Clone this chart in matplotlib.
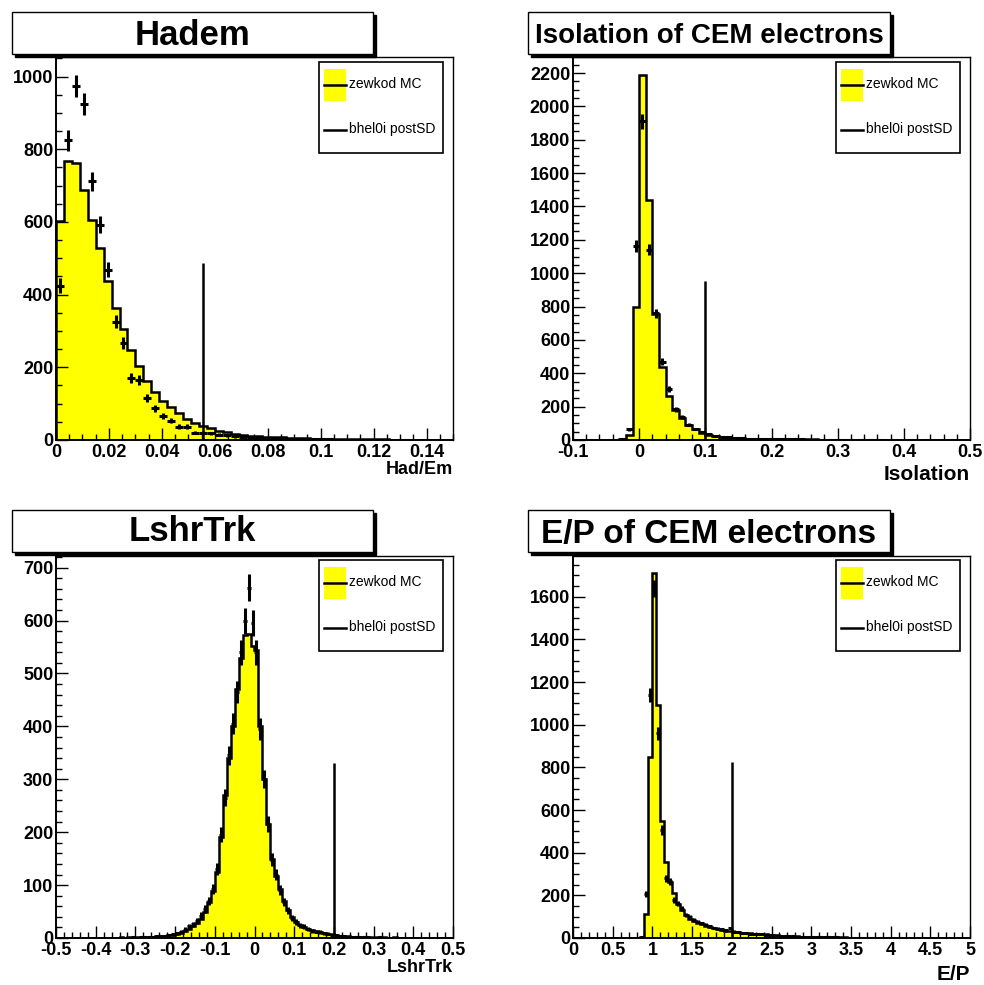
import numpy as np
import matplotlib
matplotlib.use('Agg')
import matplotlib.pyplot as plt
from matplotlib.patches import Rectangle
from matplotlib.lines import Line2D
from matplotlib.ticker import MultipleLocator, FuncFormatter

plt.rcParams['font.family'] = ['Liberation Sans', 'DejaVu Sans']

W, H = 984, 985

# ---- Hadem: 50 bins from 0 to 0.15
hadem_range = (0.0, 0.15)
hadem_mc = [602, 769, 763, 688, 605, 528, 438, 363, 306, 248,
            204, 163, 133, 108, 90, 74, 58, 48, 39, 32,
            26, 21, 17, 15, 12, 10, 9, 8, 7, 6,
            5, 5, 4, 4, 3, 3, 3, 2, 2, 2,
            2, 2, 1, 1, 1, 1, 1, 1, 1, 1]
hadem_data = [425, 825, 974, 924, 712, 593, 469, 326, 267, 170,
              165, 115, 87, 66, 53, 37, 37, 20, 20, 18,
              15, 13, 10, 9, 8, 6, 5, 5, 4, 3,
              3, 2, 2, 2, 2, 1, 1, 1, 1, 1,
              1, 1, 0, 1, 0, 0, 1, 0, 0, 0]
hadem_cut = 0.0555
hadem_cut_h = 487

# ---- Isolation: 60 bins from -0.1 to 0.5
iso_range = (-0.1, 0.5)
iso_mc = [0, 0, 0, 0, 0, 0, 1, 5, 30, 796,
          2186, 1436, 756, 436, 264, 180, 130, 90, 64, 44,
          32, 24, 18, 14, 11, 9, 8, 7, 6, 5,
          5, 4, 4, 3, 3, 3, 3, 2, 2, 2,
          2, 2, 2, 1, 1, 1, 1, 1, 1, 1,
          1, 1, 1, 1, 1, 1, 1, 1, 1, 1]
iso_data = [0, 0, 0, 0, 0, 0, 0, 3, 65, 1164,
            1910, 1140, 760, 470, 304, 184, 136, 92, 66, 46,
            34, 26, 20, 15, 12, 10, 8, 7, 6, 5,
            5, 4, 3, 3, 3, 2, 2, 2, 2, 1,
            1, 1, 1, 1, 1, 1, 1, 0, 1, 0,
            1, 0, 0, 1, 0, 0, 0, 0, 0, 0]
iso_cut = 0.1
iso_cut_h = 954

# ---- LshrTrk: 100 bins from -0.5 to 0.5
lshr_range = (-0.5, 0.5)
lshr_mc = [0, 0, 0, 0, 0, 0, 0, 0, 0, 0,
           0, 0, 0, 0, 0, 0, 1, 0, 1, 1,
           1, 1, 1, 2, 2, 3, 3, 4, 5, 6,
           8, 10, 13, 17, 22, 29, 36, 50, 68, 88,
           125, 190, 270, 340, 400, 470, 530, 572, 575, 552,
           545, 400, 300, 215, 150, 118, 92, 70, 52, 40,
           31, 25, 20, 17, 15, 13, 11, 10, 8, 7,
           5, 4, 3, 3, 2, 2, 1, 1, 1, 1,
           1, 0, 1, 0, 0, 1, 0, 0, 0, 0,
           0, 0, 0, 0, 0, 0, 0, 0, 0, 0]
lshr_data = [0, 0, 0, 0, 0, 0, 0, 0, 0, 0,
             0, 0, 0, 0, 0, 0, 0, 0, 0, 1,
             0, 1, 1, 2, 2, 3, 4, 4, 5, 7,
             9, 12, 16, 22, 26, 33, 42, 55, 70, 92,
             130, 195, 265, 345, 405, 465, 540, 600, 662, 595,
             540, 395, 300, 215, 148, 120, 90, 68, 52, 38,
             30, 24, 21, 17, 14, 12, 11, 9, 8, 6,
             5, 4, 3, 2, 2, 1, 1, 1, 1, 0,
             0, 1, 0, 0, 0, 0, 0, 0, 0, 0,
             0, 0, 0, 0, 0, 0, 0, 0, 0, 0]
lshr_cut = 0.2
lshr_cut_h = 330

# ---- E/P: 100 bins from 0 to 5
ep_range = (0.0, 5.0)
ep_mc = [0, 0, 0, 0, 0, 0, 0, 0, 0, 0,
         0, 0, 0, 0, 0, 0, 0, 5, 114, 849,
         1710, 1092, 549, 357, 263, 211, 161, 130, 107, 91,
         79, 71, 65, 58, 52, 46, 43, 38, 35, 32,
         29, 27, 25, 23, 22, 21, 20, 19, 17, 15,
         13, 12, 11, 10, 9, 8, 8, 7, 7, 6,
         6, 5, 5, 4, 4, 4, 3, 3, 3, 2,
         2, 2, 2, 1, 1, 1, 1, 1, 1, 1,
         1, 1, 1, 0, 1, 0, 1, 0, 0, 1,
         0, 0, 0, 0, 0, 0, 0, 0, 0, 0]
ep_data = [0, 0, 0, 0, 0, 0, 0, 0, 0, 0,
           0, 0, 0, 0, 0, 0, 0, 3, 208, 1139,
           1640, 959, 505, 279, 265, 177, 161, 138, 107, 99,
           85, 77, 68, 63, 55, 47, 43, 40, 36, 47,
           30, 27, 24, 22, 21, 20, 19, 18, 16, 14,
           12, 11, 10, 9, 8, 8, 7, 6, 6, 5,
           5, 5, 4, 4, 3, 3, 3, 2, 2, 2,
           2, 1, 1, 1, 1, 1, 0, 1, 0, 1,
           0, 0, 1, 0, 0, 0, 0, 0, 0, 0,
           0, 0, 0, 0, 0, 0, 0, 0, 0, 0]
ep_cut = 2.0
ep_cut_h = 826

legend_labels = ['zewkod MC', 'bhel0i postSD']

fig = plt.figure(figsize=(W / 100, H / 100), dpi=100)


def fx(x):
    return x / W


def fy(y):
    return 1 - y / H


def fmt(v, pos):
    return f'{round(v, 6) + 0.0:g}'


def title_box(x0, y0, x1, y1, text, size, base):
    # ROOT style title pave with a shadow
    fig.patches.append(Rectangle((fx(x0 + 3), fy(y1 + 3)), (x1 - x0) / W, (y1 - y0) / H,
                                 transform=fig.transFigure, facecolor='black', edgecolor='black'))
    fig.patches.append(Rectangle((fx(x0), fy(y1)), (x1 - x0) / W, (y1 - y0) / H,
                                 transform=fig.transFigure, facecolor='white', edgecolor='black', lw=1))
    fig.text(fx((x0 + x1) / 2), fy(base), text, ha='center', va='baseline',
             fontsize=size, fontweight='bold')


def legend_box(x0, y0):
    x1, y1 = x0 + 124, y0 + 91
    fig.patches.append(Rectangle((fx(x0), fy(y1)), 124 / W, 91 / H, transform=fig.transFigure,
                                 facecolor='white', edgecolor='black', lw=1.2, zorder=5))
    fig.patches.append(Rectangle((fx(x0 + 5), fy(y0 + 39)), 22 / W, 32 / H, transform=fig.transFigure,
                                 facecolor='#ffff00', edgecolor='none', zorder=6))
    fig.lines.append(Line2D([fx(x0 + 5), fx(x0 + 27)], [fy(y0 + 23), fy(y0 + 23)],
                            transform=fig.transFigure, color='black', lw=1.8, zorder=7))
    fig.lines.append(Line2D([fx(x0 + 5), fx(x0 + 27)], [fy(y0 + 68), fy(y0 + 68)],
                            transform=fig.transFigure, color='black', lw=1.8, zorder=7))
    fig.text(fx(x0 + 30), fy(y0 + 22), legend_labels[0], ha='left', va='center', fontsize=10, zorder=7)
    fig.text(fx(x0 + 30), fy(y0 + 67), legend_labels[1], ha='left', va='center', fontsize=10, zorder=7)


def panel(box, rng, mc, data, cut, cut_h, ymax, xmaj, xmin, ymaj, ymin, xlabel, xl_size, xl_y):
    l, t, r, b = box
    ax = fig.add_axes([fx(l), fy(b), (r - l) / W, (b - t) / H])
    edges = np.linspace(rng[0], rng[1], len(mc) + 1)
    ax.stairs(mc, edges, fill=True, color='#ffff00', zorder=1)
    ax.stairs(mc, edges, color='black', lw=1.8, baseline=0, zorder=2)
    centers = 0.5 * (edges[:-1] + edges[1:])
    d = np.array(data, dtype=float)
    m = d > 0
    ax.errorbar(centers[m], d[m], yerr=np.sqrt(d[m]), xerr=(edges[1] - edges[0]) / 2,
                fmt='none', ecolor='black', elinewidth=2.2, capsize=0, zorder=3)
    ax.vlines(cut, 0, cut_h, color='black', lw=1.8, zorder=4)
    ax.set_xlim(rng)
    ax.set_ylim(0, ymax)
    ax.xaxis.set_major_locator(MultipleLocator(xmaj))
    ax.xaxis.set_minor_locator(MultipleLocator(xmin))
    ax.yaxis.set_major_locator(MultipleLocator(ymaj))
    ax.yaxis.set_minor_locator(MultipleLocator(ymin))
    ax.xaxis.set_major_formatter(FuncFormatter(fmt))
    ax.yaxis.set_major_formatter(FuncFormatter(fmt))
    ax.tick_params(which='both', direction='in', top=False, right=False, width=1, color='black')
    ax.tick_params(which='major', length=8.5)
    ax.tick_params(which='minor', length=4.3)
    ax.tick_params(axis='x', pad=3, labelsize=13)
    ax.tick_params(axis='y', pad=2, labelsize=13)
    for lab in ax.get_xticklabels() + ax.get_yticklabels():
        lab.set_fontweight('bold')
    ax.spines['left'].set_linewidth(1.4)
    ax.spines['bottom'].set_linewidth(1.4)
    ax.spines['top'].set_linewidth(1)
    ax.spines['right'].set_linewidth(1)
    fig.text(fx(r), fy(xl_y), xlabel, ha='right', va='center', fontsize=xl_size, fontweight='bold')
    return ax


panel((56, 57, 453, 440), hadem_range, hadem_mc, hadem_data, hadem_cut, hadem_cut_h, 1054,
      0.02, 0.005, 200, 50, 'Had/Em', 13, 469)
panel((573, 57, 970, 440), iso_range, iso_mc, iso_data, iso_cut, iso_cut_h, 2296,
      0.1, 0.02, 200, 50, 'Isolation', 15, 475)
panel((56, 556, 453, 938), lshr_range, lshr_mc, lshr_data, lshr_cut, lshr_cut_h, 722,
      0.1, 0.02, 100, 20, 'LshrTrk', 13, 968)
panel((573, 556, 970, 938), ep_range, ep_mc, ep_data, ep_cut, ep_cut_h, 1791,
      0.5, 0.1, 200, 50, 'E/P', 15, 975)

title_box(12, 12, 373, 54, 'Hadem', 25, 45)
title_box(528, 12, 890, 54, 'Isolation of CEM electrons', 20, 43)
title_box(12, 510, 373, 552, 'LshrTrk', 25, 541)
title_box(528, 510, 890, 552, 'E/P of CEM electrons', 24, 543)

legend_box(319, 62)
legend_box(836, 62)
legend_box(319, 560)
legend_box(836, 560)

fig.savefig('out.png', dpi=100)
